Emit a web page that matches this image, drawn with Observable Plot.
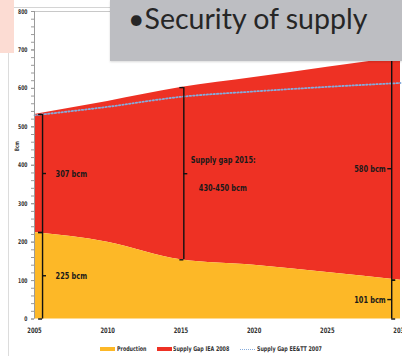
<!DOCTYPE html>
<html>
<head>
<meta charset="utf-8">
<script src="https://cdn.jsdelivr.net/npm/d3@7"></script>
<script src="https://cdn.jsdelivr.net/npm/@observablehq/plot@0.6"></script>
<style>
  html, body { margin: 0; padding: 0; background: #fff; }
  #slide { position: relative; width: 402px; height: 356px; overflow: hidden; background: #fff; }
  #chart { position: absolute; left: 0; top: 0; }
  .narrow { font-family: "Liberation Sans Narrow", "DejaVu Sans Condensed", "Roboto", sans-serif; font-weight: bold; }
  #corner { position: absolute; left: 0; top: 0; width: 14px; height: 53px; background: #fcdcd3; }
  #frameTop { position: absolute; left: 14px; top: 7px; width: 100px; height: 1px; background: #d4d4d4; }
  #frameLeft { position: absolute; left: 8px; top: 53px; width: 1px; height: 303px; background: #dcdcdc; }
  #title { position: absolute; left: 110px; top: 0; width: 292px; height: 61px; background: #bdbec2;
           box-shadow: 0 1px 2px rgba(0,0,0,0.15); }
  #title span { position: absolute; left: 18px; top: 1px; font-family: Lato, "Open Sans", sans-serif;
                font-size: 28.5px; color: #262626; white-space: nowrap; }
  #legend { position: absolute; left: 0; top: 345px; width: 402px; height: 10px;
            font-size: 6.5px; color: #333; white-space: nowrap; }
  #legend .item { position: absolute; top: 0; display: flex; align-items: center; height: 8px; }
  #legend .sw { width: 15px; height: 4px; margin-right: 1.5px; }
  #legend .dot { width: 15px; height: 0; border-top: 1.5px dotted #86acdc; margin-right: 1.5px; }
  #legend span { display: inline-block; transform: scaleX(0.82); transform-origin: 0 50%; }
</style>
</head>
<body>
<div id="slide">
  <div id="chart"></div>
  <div id="frameTop"></div>
  <div id="frameLeft"></div>
  <div id="corner"></div>
  <div id="title"><span>•Security of supply</span></div>
  <div id="legend" class="narrow"></div>
</div>
<script>
// Gas balance, bcm per year
const years = [2005, 2010, 2015, 2020, 2025, 2030];
const production = [225, 200, 154, 140, 121, 101];
const gapIEA2008 = [307, 366, 448, 488, 534, 580];
const levelEETT2007 = [530, 552, 578, 592, 604, 614];

const xTicks = [2005, 2010, 2015, 2020, 2025, 2030];
const yTicks = [0, 100, 200, 300, 400, 500, 600, 700, 800];
const yMinorTicks = d3.range(0, 801, 20);

const seriesNames = ["Production", "Supply Gap IEA 2008", "Supply Gap EE&TT 2007"];
const seriesColors = ["#fdb827", "#ee3124", "#86acdc"];

// Bracket annotations: year, index into the series, which span, side of the notch, label
const bracketYears = [2005.55, 2005.55, 2015.2, 2029.4, 2029.4];
const bracketIndex = [0, 0, 2, 5, 5];
const bracketSpan = ["production", "gap", "gap", "production", "gap"];
const bracketSide = ["right", "right", "right", "left", "left"];
const bracketLabels = ["225 bcm", "307 bcm", "", "101 bcm", "580 bcm"];
const gapTitle = ["Supply gap 2015:", "430-450 bcm"];

const rows = years.map((year, i) => ({
  year,
  production: production[i],
  total: production[i] + gapIEA2008[i],
  eett: levelEETT2007[i]
}));

const brackets = bracketYears.map((x, i) => {
  const k = bracketIndex[i];
  const lo = bracketSpan[i] === "production" ? 0 : production[k];
  const hi = bracketSpan[i] === "production" ? production[k] : production[k] + gapIEA2008[k];
  return {x, lo, hi, mid: (lo + hi) / 2, side: bracketSide[i], label: bracketLabels[i]};
});

const hookYears = 0.27; // short horizontal hooks of each brace, in years
const ends = brackets.flatMap(b => {
  const s = b.side === "right" ? -1 : 1;
  return [
    {y: b.lo, x1: b.x, x2: b.x + s * hookYears},
    {y: b.hi, x1: b.x, x2: b.x + s * hookYears}
  ];
});
const notches = brackets.map(b => ({
  y: b.mid, x1: b.x, x2: b.x + (b.side === "right" ? 1 : -1) * hookYears
}));

const narrow = '"Liberation Sans Narrow", "DejaVu Sans Condensed", Roboto, sans-serif';

const chart = Plot.plot({
  width: 402,
  height: 356,
  marginLeft: 34,
  marginRight: 2,
  marginTop: 11,
  marginBottom: 37.5,
  style: {fontFamily: narrow, fontWeight: "bold", color: "#333", background: "transparent"},
  x: {domain: [2005, 2030]},
  y: {domain: [0, 800]},
  marks: [
    Plot.areaY(rows, {x: "year", y1: "production", y2: "total", fill: seriesColors[1], curve: "monotone-x"}),
    Plot.areaY(rows, {x: "year", y1: 0, y2: "production", fill: seriesColors[0], curve: "monotone-x"}),
    Plot.lineY(rows, {x: "year", y: "eett", stroke: seriesColors[2], strokeWidth: 1.8,
                      strokeDasharray: "1.4,2", curve: "monotone-x"}),
    Plot.ruleY([800], {stroke: "#c8c8c8", strokeWidth: 1}),
    Plot.ruleX([2005], {stroke: "#9a9a9a", strokeWidth: 1}),
    Plot.axisY({ticks: yMinorTicks, tickSize: 3, text: null, stroke: "#9a9a9a"}),
    Plot.axisY({ticks: yTicks, tickSize: 3, tickPadding: 4, fontSize: 6.5, stroke: "#9a9a9a",
                tickFormat: d => String(d), label: null}),
    Plot.axisX({ticks: xTicks, tickSize: 0, tickPadding: 9, fontSize: 7.5, tickFormat: d => String(d), label: null}),
    Plot.text(["Bcm"], {frameAnchor: "left", dx: -17, dy: -14, rotate: -90, fontSize: 6, fill: "#333"}),
    // braces
    Plot.ruleX(brackets, {x: "x", y1: "lo", y2: "hi", stroke: "#111", strokeWidth: 1.4}),
    Plot.ruleY(ends, {y: "y", x1: "x1", x2: "x2", stroke: "#111", strokeWidth: 1.4}),
    Plot.ruleY(notches, {y: "y", x1: "x1", x2: "x2", stroke: "#111", strokeWidth: 1.4}),
    Plot.text(brackets.filter(b => b.label && b.side === "right"),
      {x: "x", y: "mid", text: "label", textAnchor: "start", dx: 13, fontSize: 9.5, fill: "#1a1a1a"}),
    Plot.text(brackets.filter(b => b.label && b.side === "left"),
      {x: "x", y: "mid", text: "label", textAnchor: "end", dx: -6, fontSize: 9.5, fill: "#1a1a1a"}),
    Plot.text(brackets.filter(b => !b.label), {x: "x", y: "mid", text: () => gapTitle[0],
      textAnchor: "start", dx: 7, dy: -14, fontSize: 9.5, fill: "#1a1a1a"}),
    Plot.text(brackets.filter(b => !b.label), {x: "x", y: "mid", text: () => gapTitle[1],
      textAnchor: "start", dx: 15, dy: 14, fontSize: 9.5, fill: "#1a1a1a"})
  ]
});
document.getElementById("chart").appendChild(chart);

// Narrow the chart lettering to a condensed width
chart.querySelectorAll("text").forEach(t => {
  const len = t.getComputedTextLength();
  if (len > 0) {
    t.setAttribute("textLength", (len * 0.77).toFixed(2));
    t.setAttribute("lengthAdjust", "spacingAndGlyphs");
  }
});

// Legend under the axis
const legend = document.getElementById("legend");
const legendLeft = [100, 156.5, 240];
seriesNames.forEach((name, i) => {
  const item = document.createElement("div");
  item.className = "item";
  item.style.left = legendLeft[i] + "px";
  const sw = document.createElement("div");
  if (i === 2) {
    sw.className = "dot";
  } else {
    sw.className = "sw";
    sw.style.background = seriesColors[i];
  }
  const label = document.createElement("span");
  label.textContent = name;
  item.appendChild(sw);
  item.appendChild(label);
  legend.appendChild(item);
});
</script>
</body>
</html>
